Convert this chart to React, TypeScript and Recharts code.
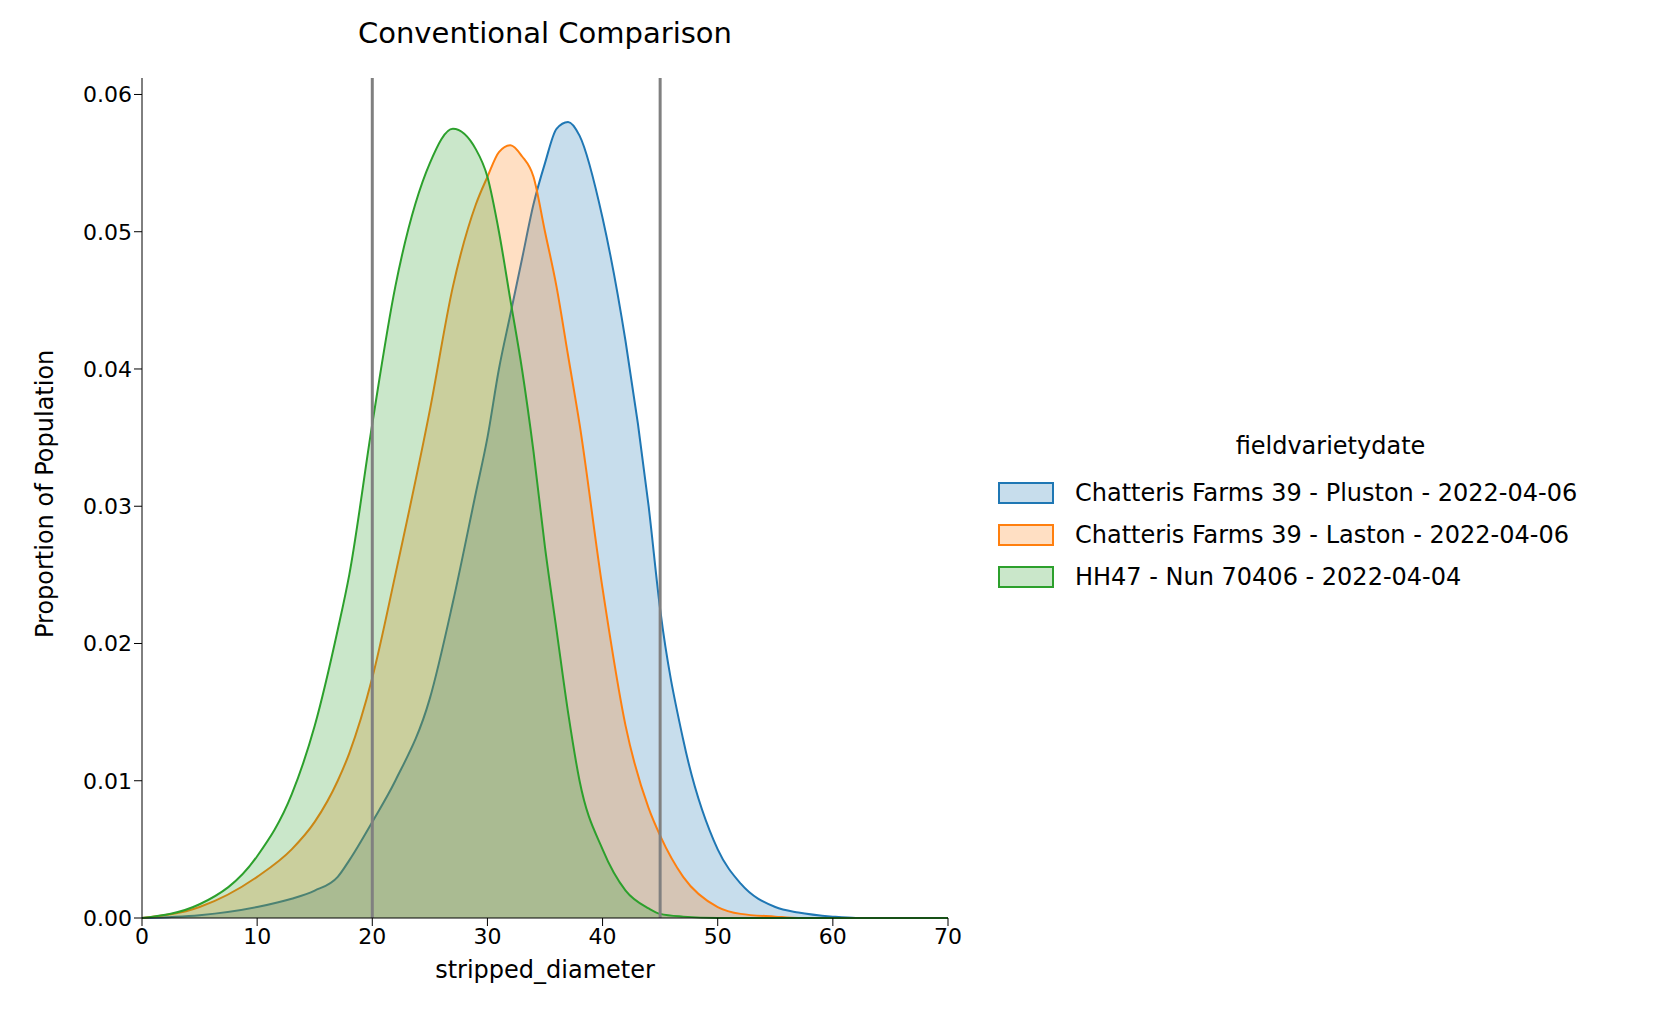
import { ComposedChart, Area, XAxis, YAxis, ReferenceLine } from 'recharts';

const diameters = [0, 5, 10, 13, 15, 17, 18, 20, 22, 25, 27, 29, 30, 31, 32, 33, 34, 35, 36, 37, 38, 40, 42, 44, 45, 47, 50, 52, 55, 57, 60, 62, 65, 70];
const pluston = [0, .0002, .0008, .0014, .002, .003, .0042, .007, .010, .016, .023, .031, .035, .040, .044, .048, .052, .055, .0575, .058, .057, .051, .042, .030, .0225, .013, .005, .0025, .0008, .0004, .0001, 0, 0, 0];
const laston = [0, .0008, .003, .005, .007, .010, .012, .0175, .025, .037, .046, .052, .054, .0558, .0563, .0555, .054, .050, .046, .041, .036, .024, .014, .008, .006, .003, .0008, .0003, .0001, 0, 0, 0, 0, 0];
const nun = [0, .001, .0045, .009, .014, .021, .025, .036, .046, .055, .0575, .056, .054, .050, .045, .040, .034, .027, .021, .015, .010, .005, .002, .0007, .0003, .0001, 0, 0, 0, 0, 0, 0, 0, 0];

const xTicks = [0, 10, 20, 30, 40, 50, 60, 70];
const yTicks = [0, 0.01, 0.02, 0.03, 0.04, 0.05, 0.06];
const cutoffs = [20, 45];

const series = [
  { key: 'pluston', name: 'Chatteris Farms 39 - Pluston - 2022-04-06', color: '#1f77b4' },
  { key: 'laston', name: 'Chatteris Farms 39 - Laston - 2022-04-06', color: '#ff7f0e' },
  { key: 'nun', name: 'HH47 - Nun 70406 - 2022-04-04', color: '#2ca02c' },
];

const data = diameters.map((d, i) => ({ d, pluston: pluston[i], laston: laston[i], nun: nun[i] }));

const font = 'DejaVu Sans, sans-serif';
const tick = { fill: '#000', fontSize: 22, fontFamily: font };

export default function App() {
  return (
    <div style={{ position: 'absolute', left: 0, top: 0, width: 1676, height: 1021, background: '#fff', fontFamily: font }}>
      <div style={{ position: 'absolute', left: 142, width: 806, top: 16, textAlign: 'center', fontSize: 29 }}>
        Conventional Comparison
      </div>
      <ComposedChart width={968} height={1021} data={data} margin={{ top: 78, right: 20, bottom: 43, left: 52 }}>
        <XAxis dataKey="d" type="number" domain={[0, 70]} ticks={xTicks} stroke="#000" tickSize={8}
          tick={tick} height={60} label={{ value: 'stripped_diameter', position: 'insideBottom', offset: 0, fill: '#000', fontSize: 24, fontFamily: font }} />
        <YAxis type="number" domain={[0, 0.0612]} ticks={yTicks} stroke="#000" tickSize={8} width={90}
          tick={tick} tickFormatter={(v: number) => v.toFixed(2)}
          label={{ value: 'Proportion of Population', angle: -90, position: 'insideLeft', offset: -8, fill: '#000', fontSize: 24, fontFamily: font, dy: 140 }} />
        {series.map(s => (
          <Area key={s.key} dataKey={s.key} type="monotone" stroke={s.color} strokeWidth={2}
            fill={s.color} fillOpacity={0.25} isAnimationActive={false} dot={false} activeDot={false} />
        ))}
        {cutoffs.map(c => (
          <ReferenceLine key={c} x={c} stroke="#808080" strokeWidth={3} />
        ))}
      </ComposedChart>
      <div style={{ position: 'absolute', left: 998, top: 432, fontSize: 24 }}>
        <div style={{ textAlign: 'center', marginBottom: 12, width: 665 }}>fieldvarietydate</div>
        {series.map(s => (
          <div key={s.key} style={{ display: 'flex', alignItems: 'center', height: 42 }}>
            <span style={{ width: 52, height: 18, border: `2px solid ${s.color}`, background: s.color + '40', marginRight: 21 }} />
            <span>{s.name}</span>
          </div>
        ))}
      </div>
    </div>
  );
}
